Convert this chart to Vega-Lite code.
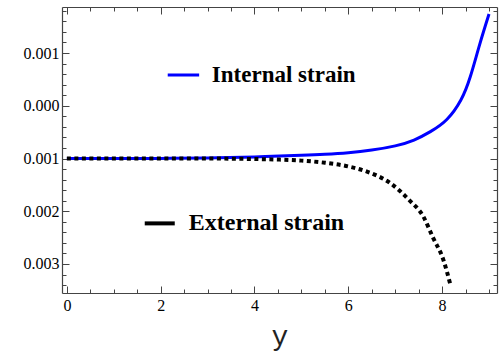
{
  "$schema": "https://vega.github.io/schema/vega-lite/v6.json",
  "width": 435,
  "height": 286,
  "autosize": {"type": "none"},
  "padding": {"left": 62, "top": 7, "right": 2, "bottom": 61},
  "background": "white",
  "config": {
    "view": {"stroke": null},
    "axis": {
      "grid": false,
      "domainColor": "#444",
      "tickColor": "#444",
      "domainWidth": 1.2,
      "tickWidth": 1,
      "labelFont": "Liberation Serif",
      "labelColor": "black",
      "labelFontSize": 16,
      "titleFont": "Liberation Mono",
      "titleFontWeight": "normal",
      "titleColor": "#222"
    }
  },
  "datasets": {
    "curves": [
      {"x": 0, "v": -0.001, "series": "Internal strain"},
      {"x": 1, "v": -0.001, "series": "Internal strain"},
      {"x": 2, "v": -0.000998, "series": "Internal strain"},
      {"x": 3, "v": -0.00099, "series": "Internal strain"},
      {"x": 4, "v": -0.00097, "series": "Internal strain"},
      {"x": 5, "v": -0.00094, "series": "Internal strain"},
      {"x": 5.5, "v": -0.00092, "series": "Internal strain"},
      {"x": 6, "v": -0.00089, "series": "Internal strain"},
      {"x": 6.5, "v": -0.00084, "series": "Internal strain"},
      {"x": 7, "v": -0.00076, "series": "Internal strain"},
      {"x": 7.4, "v": -0.00065, "series": "Internal strain"},
      {"x": 7.75, "v": -0.00049, "series": "Internal strain"},
      {"x": 8.1, "v": -0.00026, "series": "Internal strain"},
      {"x": 8.4, "v": 0.00011, "series": "Internal strain"},
      {"x": 8.6, "v": 0.00055, "series": "Internal strain"},
      {"x": 8.8, "v": 0.00116, "series": "Internal strain"},
      {"x": 9, "v": 0.00174, "series": "Internal strain"},
      {"x": 0, "v": -0.001, "series": "External strain"},
      {"x": 2, "v": -0.001, "series": "External strain"},
      {"x": 3, "v": -0.001, "series": "External strain"},
      {"x": 4, "v": -0.00101, "series": "External strain"},
      {"x": 4.5, "v": -0.00102, "series": "External strain"},
      {"x": 5, "v": -0.00104, "series": "External strain"},
      {"x": 5.5, "v": -0.00108, "series": "External strain"},
      {"x": 6, "v": -0.00115, "series": "External strain"},
      {"x": 6.4, "v": -0.00125, "series": "External strain"},
      {"x": 6.9, "v": -0.00147, "series": "External strain"},
      {"x": 7.3, "v": -0.00179, "series": "External strain"},
      {"x": 7.6, "v": -0.0021, "series": "External strain"},
      {"x": 7.8, "v": -0.00249, "series": "External strain"},
      {"x": 8.03, "v": -0.00293, "series": "External strain"},
      {"x": 8.17, "v": -0.00337, "series": "External strain"}
    ],
    "one": [{}]
  },
  "resolve": {"axis": {"x": "independent", "y": "independent"}},
  "layer": [
    {
      "data": {"name": "curves"},
      "transform": [{"filter": "datum.series === 'Internal strain'"}],
      "mark": {"type": "line", "color": "#0000ff", "strokeWidth": 3, "interpolate": "natural", "clip": true},
      "encoding": {
        "x": {
          "field": "x", "type": "quantitative",
          "scale": {"domain": [-0.104, 9.17], "nice": false, "zero": false},
          "axis": {
            "orient": "bottom",
            "title": "y",
            "titleFontSize": 28,
            "titlePadding": 9,
            "values": [0, 0.5, 1, 1.5, 2, 2.5, 3, 3.5, 4, 4.5, 5, 5.5, 6, 6.5, 7, 7.5, 8, 8.5, 9],
            "labelExpr": "abs(datum.value/2 - round(datum.value/2)) < 0.001 ? format(datum.value, 'd') : ''",
            "labelFontSize": 16,
            "labelPadding": 11,
            "tickSize": {"condition": {"test": "abs(datum.value/2 - round(datum.value/2)) < 0.001", "value": -7}, "value": -4}
          }
        },
        "y": {
          "field": "v", "type": "quantitative",
          "scale": {"domain": [-0.00355, 0.001873], "nice": false, "zero": false},
          "axis": {
            "orient": "left",
            "title": null,
            "values": [-0.0034, -0.0032, -0.003, -0.0028, -0.0026, -0.0024, -0.0022, -0.002, -0.0018, -0.0016, -0.0014, -0.0012, -0.001, -0.0008, -0.0006, -0.0004, -0.0002, 0, 0.0002, 0.0004, 0.0006, 0.0008, 0.001, 0.0012, 0.0014, 0.0016, 0.0018],
            "labelExpr": "abs(datum.value*1000 - round(datum.value*1000)) < 0.001 ? format(abs(datum.value), '.3f') : ''",
            "labelFontSize": 16,
            "labelPadding": 10,
            "tickSize": {"condition": {"test": "abs(datum.value*1000 - round(datum.value*1000)) < 0.001", "value": -7}, "value": -4}
          }
        }
      }
    },
    {
      "data": {"name": "curves"},
      "transform": [{"filter": "datum.series === 'External strain'"}],
      "mark": {"type": "line", "color": "black", "strokeWidth": 4, "strokeDash": [4, 3.5], "interpolate": "monotone", "clip": true},
      "encoding": {
        "x": {
          "field": "x", "type": "quantitative",
          "axis": {
            "orient": "top",
            "title": null,
            "labels": false,
            "values": [0, 0.5, 1, 1.5, 2, 2.5, 3, 3.5, 4, 4.5, 5, 5.5, 6, 6.5, 7, 7.5, 8, 8.5, 9],
            "tickSize": {"condition": {"test": "abs(datum.value/2 - round(datum.value/2)) < 0.001", "value": -7}, "value": -4}
          }
        },
        "y": {
          "field": "v", "type": "quantitative",
          "axis": {
            "orient": "right",
            "title": null,
            "labels": false,
            "values": [-0.0034, -0.0032, -0.003, -0.0028, -0.0026, -0.0024, -0.0022, -0.002, -0.0018, -0.0016, -0.0014, -0.0012, -0.001, -0.0008, -0.0006, -0.0004, -0.0002, 0, 0.0002, 0.0004, 0.0006, 0.0008, 0.001, 0.0012, 0.0014, 0.0016, 0.0018],
            "tickSize": {"condition": {"test": "abs(datum.value*1000 - round(datum.value*1000)) < 0.001", "value": -7}, "value": -4}
          }
        }
      }
    },
    {
      "data": {"name": "one"},
      "mark": {"type": "rule", "color": "#0000ff", "strokeWidth": 3},
      "encoding": {
        "x": {"datum": 2.15, "type": "quantitative", "axis": null},
        "x2": {"datum": 2.82},
        "y": {"datum": 0.000583, "type": "quantitative", "axis": null}
      }
    },
    {
      "data": {"name": "one"},
      "mark": {"type": "rule", "color": "black", "strokeWidth": 4},
      "encoding": {
        "x": {"datum": 1.66, "type": "quantitative", "axis": null},
        "x2": {"datum": 2.3},
        "y": {"datum": -0.00223, "type": "quantitative", "axis": null}
      }
    },
    {
      "data": {"name": "one"},
      "mark": {"type": "text", "font": "Liberation Serif", "fontWeight": "bold", "fontSize": 23, "align": "left", "baseline": "alphabetic", "color": "black"},
      "encoding": {
        "x": {"datum": 3.09, "type": "quantitative", "axis": null},
        "y": {"datum": 0.00045, "type": "quantitative", "axis": null},
        "text": {"value": "Internal strain"}
      }
    },
    {
      "data": {"name": "one"},
      "mark": {"type": "text", "font": "Liberation Serif", "fontWeight": "bold", "fontSize": 24, "align": "left", "baseline": "alphabetic", "color": "black"},
      "encoding": {
        "x": {"datum": 2.6, "type": "quantitative", "axis": null},
        "y": {"datum": -0.00236, "type": "quantitative", "axis": null},
        "text": {"value": "External strain"}
      }
    }
  ]
}
